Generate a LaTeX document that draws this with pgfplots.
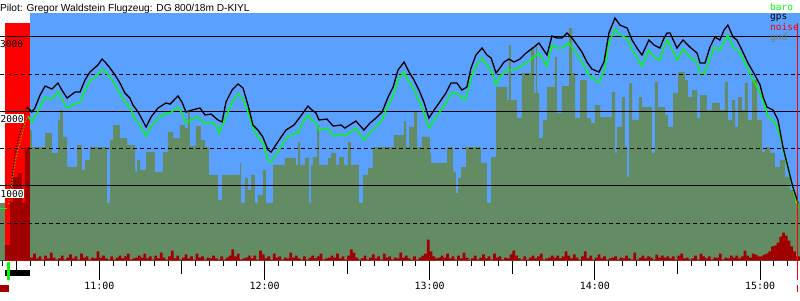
\documentclass[border=0pt]{standalone}
\usepackage{pgfplots}
\pgfplotsset{compat=1.18}
\usepackage{fontspec}
\setmainfont{Liberation Sans}
\newfontfamily\monofont{DejaVu Sans Mono}
\definecolor{sky}{RGB}{90,160,255}
\definecolor{gndc}{RGB}{100,140,100}
\definecolor{noisec}{RGB}{160,0,0}
\definecolor{barog}{RGB}{0,255,0}
\definecolor{gndleg}{RGB}{120,128,96}
\begin{document}
\begin{tikzpicture}[x=1bp,y=1bp]
\begin{axis}[
  at={(0,0)}, anchor=south west,
  scale only axis, width=800bp, height=247.5bp,
  xmin=23.93, xmax=314.5, ymin=0, ymax=3322,
  axis x line=bottom, axis y line=none,
  axis line style={-, line width=1bp},
  xtick={60,120,180,240,300},
  xticklabels={11:00,12:00,13:00,14:00,15:00},
  minor xtick={25,30,...,310},
  extra x ticks={30,90,150,210,270},
  extra x tick labels={},
  extra x tick style={major tick length=13bp},
  major tick length=19bp, minor tick length=5bp,
  tick align=outside,
  tick style={black, line width=1bp},
  xticklabel style={font=\monofont\fontsize{10}{10}\selectfont, inner sep=0pt, yshift=-2bp},
]
% sky background
\fill[sky] (axis cs:34.8,0) rectangle (axis cs:314.5,3322);
% ground
\addplot[const plot mark left, fill=gndc, draw=none] coordinates {
(23.93,772)(25.7,1500)(34.8,1751)(35.5,1523)(40.3,1711)(42.8,1443)(45.0,1886)(45.7,2020)(46.8,1658)(48.3,1255)
(51.9,1550)(53.7,1215)(54.8,1349)(56.6,1523)(62.8,772)(63.9,1617)(65.0,1818)(67.5,1644)(70.1,1550)(73.0,1188)
(73.7,1349)(74.8,1215)(77.0,1456)(80.2,1188)(83.1,1456)(84.9,1725)(86.8,1644)(89.3,1818)(91.1,1778)(92.2,2020)
(92.9,1537)(95.1,1805)(96.9,1617)(98.4,1523)(99.8,1148)(103.1,812)(104.6,1148)(111.1,1309)(111.5,772)(112.9,1107)
(114.0,946)(115.1,1148)(116.5,772)(117.6,879)(119.4,1215)(120.5,772)(123.1,1282)(127.4,1376)(131.4,1282)(132.2,1590)
(132.9,1282)(134.7,1376)(136.2,772)(136.9,1282)(137.6,1389)(139.1,1818)(139.8,1282)(143.1,1376)(144.2,1443)(146.0,1282)
(147.1,1389)(148.9,1282)(150.3,1590)(151.4,1282)(154.3,772)(155.8,1148)(157.6,1241)(159.4,1523)(167.0,1684)(170.7,1872)
(171.4,1523)(172.5,1792)(174.3,1993)(175.4,1523)(177.2,1658)(180.1,1443)(180.5,1309)(186.3,1523)(188.5,1188)(189.5,906)
(190.3,1107)(191.4,1255)(193.2,1523)(198.6,1309)(200.8,772)(202.3,1389)(204.1,2328)(208.1,2154)(208.8,2892)(209.5,2154)
(211.7,1912)(213.5,2516)(216.8,2865)(217.9,2248)(218.6,2919)(219.0,2248)(219.7,1644)(221.1,1886)(222.6,2328)(225.5,2731)
(226.2,1980)(228.0,2342)(230.6,3120)(231.7,2516)(232.8,1912)(234.6,2422)(237.1,1912)(238.6,1845)(240.0,2087)(241.9,1926)
(246.2,2261)(247.3,1443)(248.0,1792)(249.8,2194)(250.9,1523)(251.7,1121)(252.4,2382)(253.5,1886)(256.0,2194)(257.1,2060)
(260.7,1443)(261.8,2396)(262.9,2060)(265.5,1953)(266.5,1792)(268.4,2248)(270.2,2530)(272.7,2422)(273.8,2194)(275.3,2288)
(277.1,1912)(278.2,2221)(280.7,2020)(282.5,2114)(285.4,2020)(287.2,2396)(288.3,1886)(289.8,2154)(290.9,1792)(292.0,2194)
(293.4,2020)(294.5,2382)(295.6,1886)(297.1,2422)(298.9,1886)(300.7,1456)(301.8,1523)(303.6,1443)(305.4,1255)(307.2,1349)
(309.0,1121)(310.9,946)(312.7,772)(314.5,772)
} \closedcycle;
% pre-flight (engine) phase
\fill[red] (axis cs:25.7,0) rectangle (axis cs:34.8,3187);
% noise
\addplot[const plot mark left, fill=noisec, draw=none] coordinates {
(25.7,208)(27.6,785)(28.7,1121)(30.5,1174)(31.9,772)(33.0,1523)
(34.8,40)(36,94)(37,27)(38,54)(39,13)(40,67)(41,27)(42,107)(43,40)(44,13)
(45,27)(46,67)(47,13)(48,40)(49,81)(50,27)(51,54)(52,13)(53,94)(54,40)
(55,54)(56,13)(57,40)(58,27)(59,121)(60,40)(61,67)(62,27)(63,13)(64,54)
(65,13)(66,40)(67,67)(68,27)(69,54)(70,94)(71,13)(72,27)(73,40)(74,67)
(75,40)(76,94)(77,27)(78,54)(79,13)(80,67)(81,27)(82,107)(83,40)(84,13)
(85,54)(86,134)(87,27)(88,67)(89,13)(90,40)(91,81)(92,27)(93,54)(94,13)
(95,94)(96,40)(97,54)(98,13)(99,40)(100,27)(101,67)(102,27)(103,13)(104,54)
(105,13)(106,40)(107,67)(108,148)(109,54)(110,94)(111,13)(112,27)(113,40)(114,67)
(115,27)(116,67)(117,13)(118,134)(119,81)(120,27)(121,54)(122,13)(123,94)(124,40)
(125,54)(126,13)(127,40)(128,27)(129,107)(130,40)(131,67)(132,27)(133,13)(134,54)
(135,13)(136,40)(137,67)(138,27)(139,54)(140,94)(141,13)(142,27)(143,40)(144,67)
(145,40)(146,94)(147,27)(148,54)(149,13)(150,67)(151,148)(152,107)(153,40)(154,13)
(155,27)(156,67)(157,13)(158,40)(159,81)(160,27)(161,54)(162,13)(163,94)(164,40)
(165,54)(166,13)(167,40)(168,27)(169,107)(170,40)(171,67)(172,27)(173,13)(174,54)
(175,13)(176,40)(177,67)(178,94)(179,280)(180,121)(181,54)(182,27)(183,40)(184,67)
(185,40)(186,94)(187,27)(188,54)(189,13)(190,67)(191,27)(192,107)(193,40)(194,13)
(195,27)(196,67)(197,13)(198,40)(199,81)(200,27)(201,54)(202,13)(203,94)(204,40)
(205,54)(206,13)(207,40)(208,27)(209,81)(210,134)(211,67)(212,27)(213,13)(214,54)
(215,13)(216,40)(217,67)(218,27)(219,54)(220,94)(221,13)(222,27)(223,40)(224,67)
(225,40)(226,67)(227,27)(228,54)(229,121)(230,67)(231,27)(232,81)(233,40)(234,13)
(235,54)(236,121)(237,27)(238,67)(239,13)(240,40)(241,81)(242,27)(243,54)(244,13)
(245,27)(246,40)(247,54)(248,13)(249,40)(250,27)(251,67)(252,27)(253,13)(254,107)
(255,13)(256,40)(257,67)(258,27)(259,54)(260,40)(261,13)(262,80)(263,40)(264,67)
(265,40)(266,54)(267,27)(268,54)(269,13)(270,67)(271,94)(272,27)(273,40)(274,13)
(275,27)(276,67)(277,13)(278,94)(279,54)(280,27)(281,54)(282,13)(283,40)(284,40)
(285,94)(286,13)(287,40)(288,27)(289,67)(290,40)(291,67)(292,27)(293,54)(294,134)
(295,67)(296,40)(297,94)(298,80)(299,54)(300,54)(301,80)(302,94)(303,121)(304,188)
(305,201)(306,241)(307,320)(308,375)(309,335)(310,268)(311,188)(312,121)(313,54)(314.5,54)
} \closedcycle;
% grid lines
\foreach \yy in {1000,2000,3000} {
  \edef\tmp{\noexpand\draw[black, line width=1bp] (axis cs:23.93,\yy) -- (axis cs:314.5,\yy);}\tmp
}
\foreach \yy in {500,1500,2500} {
  \edef\tmp{\noexpand\draw[black, line width=1bp, dash pattern=on 4bp off 3bp] (axis cs:23.93,\yy) -- (axis cs:314.5,\yy);}\tmp
}
% pre-flight climb (sparse fixes)
\addplot[barog, line width=1bp, dotted] coordinates {(27.0,760)(28.0,1000)(29.6,1350)(30.9,1550)(32.2,1725)(33.0,1850)(34.1,1939)};
\addplot[black, line width=1bp, dotted] coordinates {(27.6,852)(28.2,1080)(29.4,1442)(30.5,1617)(31.8,1792)(32.4,1926)(33.7,2060)};
\addplot[barog, line width=1bp] coordinates {(23.93,692)(26.5,692)};
% baro
\addplot[barog, line width=1.3bp] coordinates {
(34.1,1939)(35.5,1859)(37.0,1953)(39.2,2114)(40.3,2194)(42.8,2168)(45.0,2261)(46.4,2168)(48.3,2047)(51.2,2100)
(53.0,2127)(54.8,2288)(56.6,2409)(59.5,2490)(61.0,2570)(62.4,2530)(64.6,2422)(65.7,2355)(67.5,2248)(69.3,2127)
(71.1,2060)(73.0,1886)(74.8,1818)(77.0,1671)(78.8,1805)(82.0,1926)(84.2,1980)(85.7,1980)(88.6,2060)(90.0,1980)
(91.5,1845)(93.7,1899)(95.8,1926)(98.4,1832)(100.6,1859)(102.4,1818)(103.5,1711)(106.0,1926)(108.2,2127)(110.4,2235)
(112.2,2168)(114.0,1993)(115.8,1778)(117.6,1658)(119.4,1590)(121.3,1349)(122.4,1322)(125.3,1483)(127.8,1644)(130.7,1698)
(132.2,1711)(133.6,1832)(135.8,1953)(137.2,1886)(138.7,1845)(139.8,1751)(142.7,1778)(145.2,1671)(147.8,1698)(149.2,1671)
(153.2,1778)(156.1,1617)(158.3,1711)(160.5,1792)(162.7,1886)(164.1,2020)(166.7,2208)(168.5,2422)(170.7,2530)(172.5,2396)
(174.3,2288)(177.2,2060)(179.7,1778)(181.6,1886)(183.4,1980)(185.9,2114)(187.7,2248)(189.9,2248)(192.5,2154)(193.5,2221)
(195.0,2449)(196.8,2611)(199.0,2718)(200.8,2624)(202.6,2530)(204.1,2355)(205.9,2490)(208.1,2557)(210.3,2557)(212.8,2597)
(215.0,2651)(217.9,2731)(219.7,2785)(222.6,2611)(224.4,2892)(226.2,2852)(228.0,2852)(230.6,2919)(232.8,2798)(235.3,2664)
(237.1,2530)(238.9,2449)(241.5,2396)(243.3,2530)(245.1,2919)(247.3,3107)(249.1,3026)(251.7,2986)(253.5,2825)(255.3,2718)
(257.1,2611)(259.6,2825)(261.5,2731)(263.6,2691)(265.1,2865)(266.2,2959)(267.3,2892)(269.8,2691)(272.0,2838)(274.5,2731)
(277.1,2664)(278.2,2516)(280.0,2516)(281.8,2731)(283.6,2865)(285.4,2825)(286.9,2932)(288.3,3026)(290.2,2865)(292.7,2785)
(294.5,2651)(297.4,2422)(300.0,2248)(301.8,2060)(302.9,1926)(305.4,1859)(307.2,1684)(309.0,1389)(310.9,1121)(312.7,852)
(313.8,705)
};
% gps
\addplot[black, line width=1.3bp] coordinates {
(33.7,2060)(35.5,1993)(36.6,2047)(38.5,2221)(40.3,2342)(42.8,2302)(45.0,2382)(46.4,2288)(48.3,2181)(51.2,2261)
(53.0,2261)(54.8,2422)(56.6,2530)(59.5,2624)(61.0,2704)(62.1,2664)(63.9,2583)(65.7,2490)(67.5,2382)(69.3,2248)
(71.1,2181)(72.2,2087)(74.1,1993)(77.0,1792)(78.8,1926)(81.3,2047)(84.2,2114)(85.7,2100)(88.6,2208)(90.0,2127)
(91.5,1993)(93.7,2020)(96.6,2047)(98.4,1953)(100.6,1966)(103.1,1886)(104.6,1859)(106.0,2127)(108.2,2288)(110.4,2369)
(112.2,2315)(114.0,2087)(115.8,1818)(117.6,1751)(119.4,1658)(121.3,1483)(122.4,1456)(125.3,1617)(127.8,1751)(130.7,1818)
(132.9,1926)(135.8,2073)(137.2,2020)(138.7,1980)(139.8,1886)(142.7,1899)(144.9,1805)(147.8,1818)(149.2,1778)(153.2,1872)
(156.1,1751)(158.3,1845)(160.5,1912)(162.7,1993)(164.9,2194)(166.7,2328)(168.5,2557)(170.7,2664)(172.5,2530)(174.3,2422)
(176.1,2288)(177.9,2127)(179.7,1912)(181.6,2020)(183.4,2114)(185.9,2248)(187.7,2382)(189.9,2382)(191.7,2288)(193.5,2328)
(195.0,2583)(196.8,2758)(199.0,2852)(200.8,2758)(202.3,2718)(204.1,2516)(205.5,2583)(207.0,2664)(208.8,2704)(210.6,2664)
(212.8,2704)(215.0,2785)(217.9,2865)(219.7,2919)(222.6,2758)(224.4,3013)(226.2,2986)(228.0,2986)(229.9,3053)(231.7,2986)
(233.5,2892)(235.3,2798)(237.1,2664)(238.9,2570)(241.5,2530)(243.3,2664)(245.1,3053)(247.3,3254)(249.1,3160)(251.7,3120)
(253.5,2959)(255.3,2852)(257.1,2758)(259.6,2959)(261.5,2892)(263.6,2852)(265.1,2986)(266.2,3053)(267.3,3053)(269.8,2852)
(272.0,2959)(274.5,2865)(277.1,2785)(278.2,2651)(280.0,2651)(281.8,2865)(283.6,2999)(285.4,2959)(286.9,3093)(288.3,3160)
(290.2,2999)(291.6,2959)(293.4,2825)(295.6,2651)(298.1,2490)(300.0,2355)(301.1,2194)(302.5,2060)(304.7,2020)(306.5,1886)
(308.3,1523)(310.1,1255)(311.9,987)(313.8,772)
};
\end{axis}
% title
\node[anchor=base west, inner sep=0pt, font=\fontsize{10.2}{12}\selectfont] at (0,249.5) {Pilot: Gregor Waldstein Flugzeug: DG 800/18m D-KIYL};
% altitude labels
\node[anchor=base west, inner sep=0pt, font=\monofont\fontsize{9.5}{10}\selectfont] at (0,213.5) {3000};
\node[anchor=base west, inner sep=0.5bp, fill=white, font=\monofont\fontsize{9.5}{10}\selectfont] at (0,138.5) {2000};
\node[anchor=base west, inner sep=0.5bp, fill=white, font=\monofont\fontsize{9.5}{10}\selectfont] at (0,63.5) {1000};
% legend
\node[anchor=base west, inner sep=0pt, text=barog, font=\monofont\fontsize{9.5}{10}\selectfont] at (770,250.5) {baro};
\node[anchor=base west, inner sep=0pt, text=black, font=\monofont\fontsize{9.5}{10}\selectfont] at (770,241.5) {gps};
\node[anchor=base west, inner sep=0pt, text=red, font=\monofont\fontsize{9.5}{10}\selectfont] at (770,230.5) {noise};
\node[anchor=base west, inner sep=0pt, text=gndleg, font=\monofont\fontsize{9.5}{10}\selectfont] at (770,220.5) {gnd};
% timeline markers below the axis
\fill[black] (5,-9.5) rectangle (30,-15.5);
\draw[barog, line width=2.5bp] (8.5,-1) -- (8.5,-19.5);
\fill[noisec] (0,-24.5) rectangle (9,-31.5);
\draw[red, line width=1.5bp] (797.5,237.5) -- (797.5,-19.5);
\draw[red, line width=1.5bp] (797.5,-24.5) -- (797.5,-31.5);
\pgfresetboundingbox
\path[use as bounding box] (0,-39.5) rectangle (800,260.5);
\end{tikzpicture}
\end{document}
